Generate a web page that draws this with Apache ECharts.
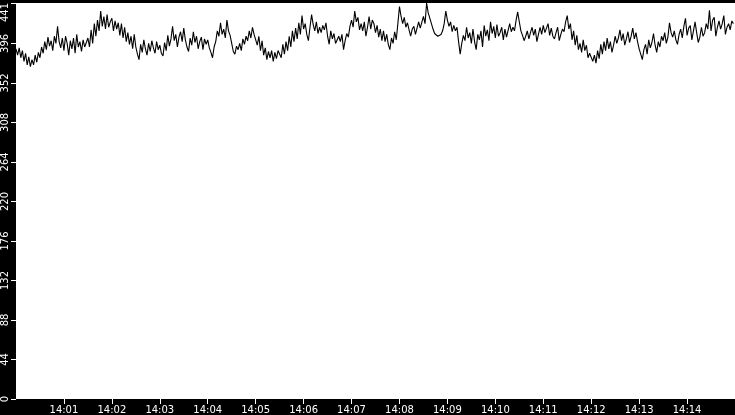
<!DOCTYPE html>
<html>
<head>
<meta charset="utf-8">
<script src="https://cdn.jsdelivr.net/npm/echarts@6/dist/echarts.min.js"></script>
<style>
    html, body { margin: 0; padding: 0; background: #000; }
    #chart { width: 735px; height: 415px; }
</style>
</head>
<body>
<div id="chart"></div>
<script>
// 采样起点 14:00:00，每 2 秒一个点（x 轴单位：秒）
const stepSec = 2;

// 读数（从图上估计），每行 30 秒
const values = [
    390, 383, 391, 380, 388, 376, 385, 372, 381, 370, 378, 372, 383, 375, 386,
    380, 392, 385, 398, 389, 403, 393, 399, 388, 404, 396, 415, 398, 391, 402,
    388, 404, 396, 383, 399, 390, 402, 385, 406, 392, 398, 387, 400, 392, 397,
    402, 392, 411, 396, 418, 404, 422, 410, 432, 415, 426, 412, 428, 414, 420,
    424, 410, 421, 412, 419, 405, 418, 402, 414, 398, 408, 395, 404, 390, 406,
    392, 384, 378, 395, 386, 400, 390, 383, 396, 387, 399, 391, 385, 398, 389,
    394, 385, 382, 397, 388, 405, 393, 401, 415, 399, 406, 392, 403, 409, 398,
    413, 400, 392, 387, 402, 394, 409, 397, 404, 390, 398, 403, 389, 401, 395,
    400, 391, 386, 380, 392, 398, 410, 404, 419, 406, 412, 402, 422, 410, 405,
    396, 387, 384, 393, 389, 396, 388, 401, 395, 404, 399, 410, 402, 414, 406,
    407, 394, 404, 388, 399, 383, 391, 378, 387, 380, 388, 376, 386, 379, 388,
    390, 380, 395, 384, 398, 388, 404, 392, 410, 398, 413, 401, 419, 406, 427,
    412, 418, 406, 399, 414, 428, 417, 410, 420, 407, 414, 408, 416, 411, 419,
    404, 395, 410, 401, 407, 396, 394, 404, 398, 406, 389, 399, 407, 403, 415,
    422, 414, 432, 420, 425, 411, 418, 410, 420, 404, 414, 426, 412, 422, 418,
    408, 416, 403, 412, 399, 410, 398, 406, 395, 389, 402, 396, 409, 400, 418,
    437, 426, 418, 425, 414, 419, 411, 404, 412, 415, 406, 408, 420, 413, 412,
    426, 418, 441, 430, 428, 418, 412, 407, 405, 404, 404, 406, 410, 418, 432,
    422, 415, 420, 409, 416, 410, 414, 398, 384, 396, 405, 399, 414, 402, 408,
    396, 412, 398, 389, 406, 400, 410, 392, 416, 404, 411, 399, 420, 407, 415,
    402, 417, 404, 408, 414, 400, 412, 403, 405, 418, 409, 414, 410, 422, 431,
    420, 410, 405, 399, 404, 410, 401, 408, 414, 405, 412, 398, 406, 414, 406,
    416, 408, 410, 418, 405, 413, 404, 401, 408, 414, 399, 406, 412, 409, 420,
    427, 412, 418, 400, 410, 394, 405, 389, 396, 386, 400, 388, 394, 380, 385,
    386, 376, 383, 374, 388, 379, 395, 384, 398, 388, 402, 390, 398, 386, 394,
    404, 396, 402, 411, 399, 407, 394, 401, 409, 397, 404, 413, 401, 408, 398,
    390, 384, 378, 389, 395, 384, 400, 391, 397, 407, 394, 386, 398, 392, 404,
    399, 408, 396, 403, 419, 408, 403, 410, 400, 395, 406, 412, 402, 415, 424,
    405, 413, 416, 400, 410, 420, 408, 397, 403, 414, 404, 408, 418, 412, 433,
    410, 422, 425, 404, 414, 421, 412, 418, 427, 406, 414, 418, 411, 421, 418
];

// 坐标轴刻度
const yTicks = [0, 44, 88, 132, 176, 220, 264, 308, 352, 396, 441];
const xTicks = [60, 120, 180, 240, 300, 360, 420, 480, 540, 600, 660, 720, 780, 840];
const xLabels = ['14:01', '14:02', '14:03', '14:04', '14:05', '14:06', '14:07',
    '14:08', '14:09', '14:10', '14:11', '14:12', '14:13', '14:14'];

const chart = echarts.init(document.getElementById('chart'));

chart.setOption({
    backgroundColor: '#000',
    animation: false,
    grid: {
        left: 15,
        right: 0,
        top: 0,
        bottom: 15,
        show: true,
        backgroundColor: '#fff',
        borderWidth: 0
    },
    xAxis: {
        type: 'value',
        min: 0,
        max: 900,
        axisLine: { show: false },
        splitLine: { show: false },
        axisTick: {
            show: true,
            length: 5,
            customValues: xTicks,
            lineStyle: { color: '#fff' }
        },
        axisLabel: {
            customValues: xTicks,
            color: '#fff',
            fontFamily: 'DejaVu Sans',
            fontSize: 10,
            margin: 6,
            formatter: v => xLabels[xTicks.indexOf(v)]
        }
    },
    yAxis: {
        type: 'value',
        min: 0,
        max: 441,
        axisLine: { show: false },
        splitLine: { show: false },
        axisTick: {
            show: true,
            length: 5,
            customValues: yTicks,
            lineStyle: { color: '#fff' }
        },
        axisLabel: {
            customValues: yTicks,
            rotate: 90,
            color: '#fff',
            fontFamily: 'DejaVu Sans',
            fontSize: 10,
            margin: 6,
            alignMaxLabel: 'right'
        }
    },
    series: [
        {
            type: 'line',
            data: values.map((v, i) => [i * stepSec, v]),
            showSymbol: false,
            symbol: 'none',
            lineStyle: { color: '#000', width: 1.1 }
        }
    ]
});
</script>
</body>
</html>
